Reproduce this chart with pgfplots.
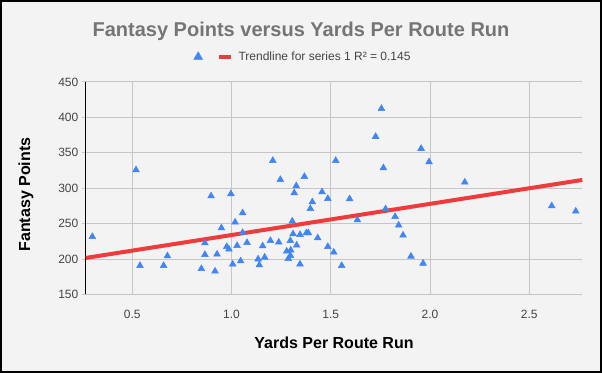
\documentclass[border=0pt]{standalone}
\usepackage{fontspec}
\setmainfont{Liberation Sans}
\usepackage{pgfplots}
\pgfplotsset{compat=1.18}
\definecolor{bg}{HTML}{F3F3F3}
\definecolor{ptblue}{HTML}{4285F4}
\definecolor{trred}{HTML}{EF3B3B}
\definecolor{titlegray}{HTML}{757575}
\definecolor{gridgray}{HTML}{C6C6C6}
\definecolor{ticktext}{HTML}{444444}
\pgfplotsset{shortline/.style={legend image code/.code={\draw[##1] (0pt,0pt) -- (9pt,0pt); \path (11pt,0pt);}}}
\begin{document}
\begin{tikzpicture}[x=0.75pt,y=0.75pt]
\fill[bg] (0,0) rectangle (602,373);
\draw[black, line width=1.5pt] (1,1) rectangle (601,372);
\path[use as bounding box] (0,0) rectangle (602,373);
\begin{axis}[
  at={(64.275pt,58.875pt)}, anchor=south west,
  scale only axis, width=372.45pt, height=159.4pt,
  xmin=0.2655, xmax=2.767, ymin=150, ymax=450,
  xtick={0.5,1,1.5,2,2.5}, xticklabels={0.5,1.0,1.5,2.0,2.5},
  ytick={150,200,250,300,350,400,450},
  /pgf/number format/assume math mode=true,
  grid=major, major grid style={gridgray, line width=0.7pt},
  axis lines=left, axis line style={-},
  x axis line style={gridgray, line width=0.7pt},
  y axis line style={black, line width=0.8pt},
  tick align=outside, major tick length=3pt,
  xtick style={draw=none}, ytick style={gridgray, line width=0.7pt},
  tick label style={font=\fontsize{9}{10}\selectfont, text=ticktext},
  xticklabel style={anchor=center, yshift=-12pt},
  yticklabel style={anchor=east, xshift=1pt},
  every axis title shift=0pt,
  title={Fantasy Points versus Yards Per Route Run},
  title style={at={(0.4336,1.238)}, anchor=center, font=\bfseries\fontsize{15}{18}\selectfont, text=titlegray},
  xlabel={Yards Per Route Run},
  xlabel style={at={(0.5,-0.228)}, anchor=center, font=\bfseries\fontsize{12}{14}\selectfont, text=black},
  ylabel={Fantasy Points},
  ylabel style={at={(-0.12,0.47)}, anchor=center, font=\bfseries\fontsize{12}{14}\selectfont, text=black},
  legend columns=2,
  legend style={at={(0.4386,1.118)}, anchor=center, draw=none, fill=none,
    font=\fontsize{9}{11}\selectfont, text=ticktext,
    /tikz/every even column/.append style={column sep=7pt}},
  clip=false,
]
\addplot[trred, line width=3pt, forget plot] coordinates {(0.2655,201.6) (2.767,311.7)};
\addplot[only marks, mark=triangle*, mark size=2.9pt, color=ptblue, legend image post style={mark size=3.8pt}] table {
x y
0.299 231.6
0.519 325.8
0.539 190.7
0.658 190.7
0.677 204.4
0.848 186.4
0.866 222.7
0.866 206.2
0.897 289
0.917 182.8
0.927 206.8
0.949 243.9
0.976 217.5
0.987 213.8
0.997 292
1.006 192.7
1.018 252
1.028 218.9
1.046 197.3
1.056 237.3
1.056 265.1
1.078 223.2
1.134 200
1.140 191.6
1.157 218.5
1.167 202.5
1.196 226
1.208 339
1.238 223.7
1.246 312.1
1.278 211
1.286 200.5
1.296 226
1.298 212.6
1.297 204.8
1.306 253.4
1.310 235.5
1.316 293.4
1.326 303.3
1.328 219.5
1.345 192.7
1.345 234.5
1.367 316.4
1.377 236.9
1.387 236.9
1.397 271.2
1.407 280.6
1.434 229.8
1.456 294.8
1.485 285.3
1.485 217.5
1.515 209.6
1.525 339
1.555 190.7
1.595 284.9
1.634 255.2
1.726 372.9
1.755 412.4
1.765 328.7
1.776 270.8
1.824 259.9
1.842 247.7
1.864 233.6
1.904 203.9
1.955 356
1.965 194
1.995 337.1
2.175 308.5
2.613 275
2.734 267.5
};
\addlegendentry{}
\addlegendimage{trred, line width=3pt, shortline}
\addlegendentry{Trendline for series 1 R² = 0.145}
\end{axis}
\end{tikzpicture}
\end{document}
